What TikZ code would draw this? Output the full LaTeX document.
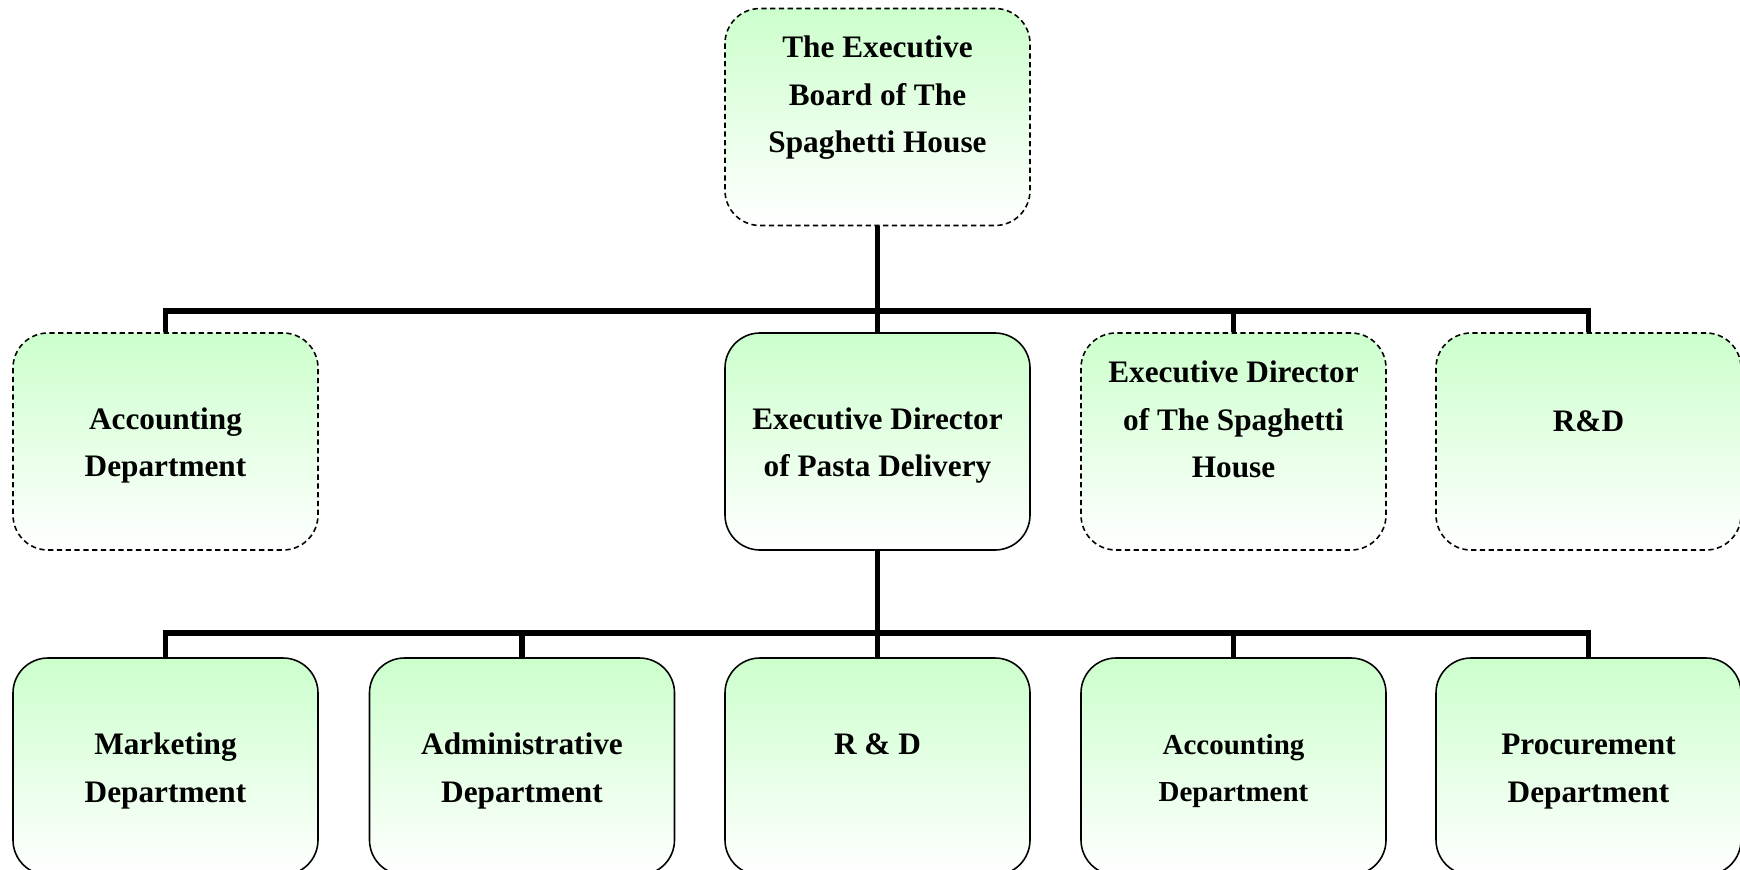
\documentclass[tikz,border=0pt]{standalone}
\usepackage{fontspec}
\setmainfont{Liberation Serif}
\usetikzlibrary{positioning}
\usetikzlibrary{calc}

\definecolor{boxgreen}{RGB}{204,255,204}

\begin{document}
\begin{tikzpicture}[x=0.2mm, y=-0.2mm,
    unit/.style={rectangle, rounded corners=7mm, draw=black, line width=0.9pt, top color=boxgreen, bottom color=white, minimum width=61mm, minimum height=43.4mm, inner sep=0pt},
    dashedunit/.style={unit, dash pattern=on 3pt off 2pt},
    bus/.style={line width=3.2pt},
    lbl/.style={align=center, font=\bfseries\fontsize{17.8}{27}\selectfont},
    smalllbl/.style={align=center, font=\bfseries\fontsize{16.5}{27}\selectfont}]

        \useasboundingbox (0,0) rectangle (1740,870);

        % top
        \node[dashedunit] (board) at (877.5,117) {};

        % second row
        \node[dashedunit] (acct) at (165.5,441.5) {};
        \node[unit] (pasta) at (877.5,441.5) {};
        \node[dashedunit] (spag) at (1233.5,441.5) {};
        \node[dashedunit] (rnd) at (1588.5,441.5) {};

        % third row
        \node[unit] (mkt) at (165.5,766.5) {};
        \node[unit] (admin) at (522,766.5) {};
        \node[unit] (rd) at (877.5,766.5) {};
        \node[unit] (acct2) at (1233.5,766.5) {};
        \node[unit] (proc) at (1588.5,766.5) {};

        \foreach \c in {acct,pasta,spag,rnd} {
          \draw[bus] (board.south) -- ++(0,85) -| (\c.north);
        }
        \foreach \c in {mkt,admin,rd,acct2,proc} {
          \draw[bus] (pasta.south) -- ++(0,82) -| (\c.north);
        }

        \node[lbl] (tboard) at ($(board)+(0,-19)$) {The Executive\\Board of The\\Spaghetti House};
        \node[lbl] (tacct) at ($(acct)+(0,4)$) {Accounting\\Department};
        \node[lbl] (tpasta) at ($(pasta)+(0,4)$) {Executive Director\\of Pasta Delivery};
        \node[lbl] (tspag) at ($(spag)+(0,-22)$) {Executive Director\\of The Spaghetti\\House};
        \node[lbl] (trnd) at ($(rnd)+(0,-20.5)$) {R\&D};

        \node[lbl] (tmkt) at ($(mkt)+(0,4.5)$) {Marketing\\Department};
        \node[lbl] (tadmin) at ($(admin)+(0,4.5)$) {Administrative\\Department};
        \node[lbl] (trd) at ($(rd)+(0,-22)$) {R \& D};
        \node[smalllbl] (tacct2) at ($(acct2)+(0,4.5)$) {Accounting\\Department};
        \node[lbl] (tproc) at ($(proc)+(0,5)$) {Procurement\\Department};

\end{tikzpicture}
\end{document}
